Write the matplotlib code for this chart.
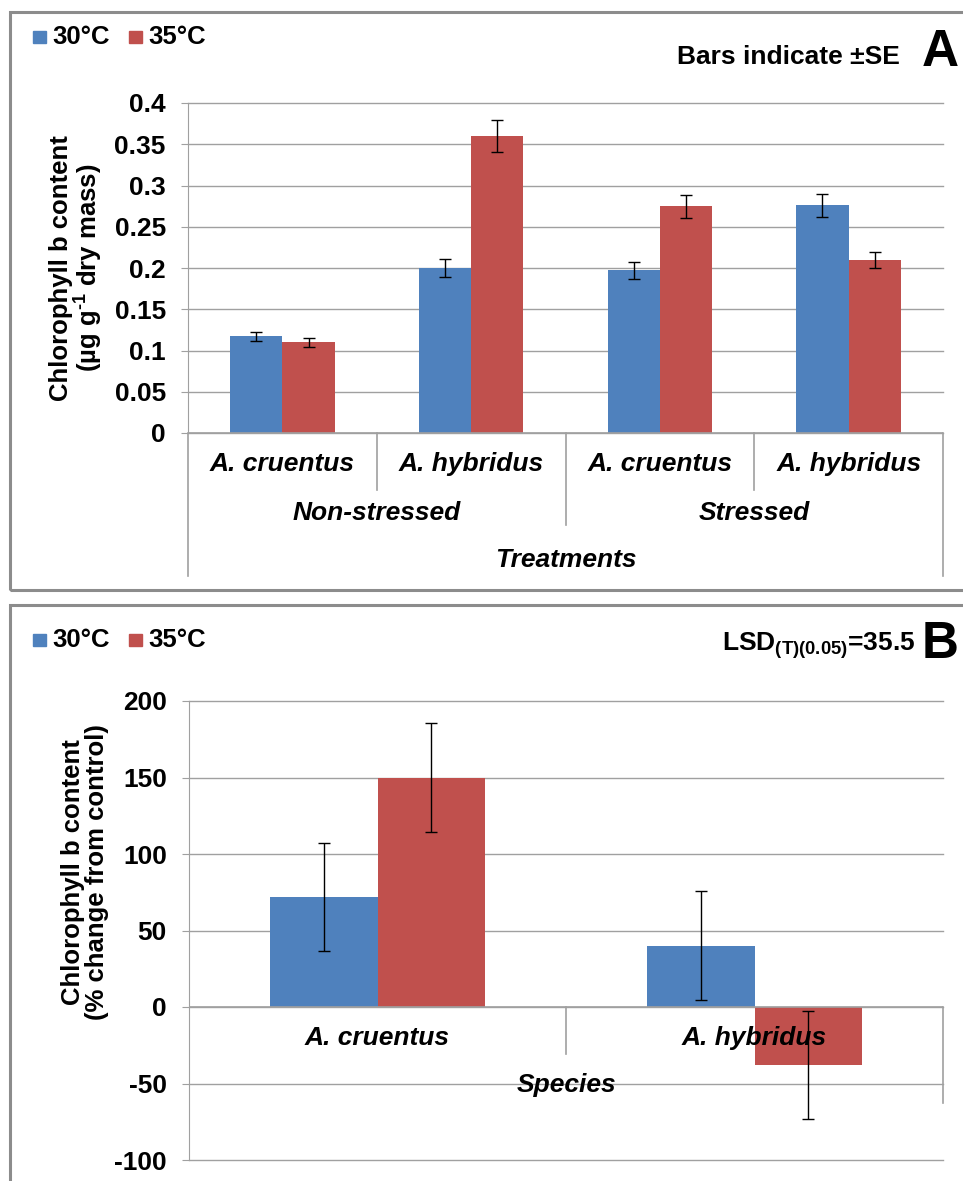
import matplotlib.pyplot as plt
from matplotlib.patches import Rectangle
import numpy as np

plt.rcParams['font.family'] = ['Liberation Sans', 'DejaVu Sans']
plt.rcParams['font.weight'] = 'bold'
plt.rcParams['axes.unicode_minus'] = False
plt.rcParams['mathtext.fontset'] = 'custom'
plt.rcParams['mathtext.rm'] = 'Liberation Sans:bold'
plt.rcParams['mathtext.it'] = 'Liberation Sans:italic:bold'
plt.rcParams['mathtext.bf'] = 'Liberation Sans:bold'
plt.rcParams['mathtext.default'] = 'rm'

# === Données ===
especes = ['A. cruentus', 'A. hybridus', 'A. cruentus', 'A. hybridus']
traitements = ['Non-stressed', 'Stressed']
chl_30 = [0.117, 0.200, 0.197, 0.276]
chl_35 = [0.110, 0.360, 0.275, 0.210]
se_30 = [0.006, 0.011, 0.010, 0.014]
se_35 = [0.0055, 0.019, 0.014, 0.010]
ticks_a = [0, 0.05, 0.1, 0.15, 0.2, 0.25, 0.3, 0.35, 0.4]

especes_b = ['A. cruentus', 'A. hybridus']
chg_30 = [72, 40]
chg_35 = [150, -38]
err_30 = [35.5, 35.5]
err_35 = [35.5, 35.5]
ticks_b = [-100, -50, 0, 50, 100, 150, 200]

bleu = '#4F81BD'
rouge = '#C0504D'
gris = '#A0A0A0'
taille = 19

W, H = 963, 1181
fig = plt.figure(figsize=(W / 100, H / 100), dpi=100)


def fx(x):
    return x / W


def fy(y):
    return 1 - y / H


def axe_px(x0, x1, y0, y1):
    return fig.add_axes([fx(x0), fy(y1), (x1 - x0) / W, (y1 - y0) / H])


# cadres gris des deux panneaux
for top, bot in [(12, 590), (605, 1230)]:
    fig.patches.append(Rectangle((fx(10), fy(bot)), fx(1100) - fx(10), fy(top) - fy(bot),
                                 transform=fig.transFigure, fill=False,
                                 edgecolor='#8C8C8C', lw=2.2))


def style_axe(ax):
    for s in ['top', 'right', 'bottom']:
        ax.spines[s].set_visible(False)
    ax.spines['left'].set_color(gris)
    ax.tick_params(axis='y', length=5, color=gris, labelsize=taille, pad=11)
    ax.tick_params(axis='x', length=0, labelbottom=False)
    ax.yaxis.grid(True, color=gris, lw=1.0)
    for gl in ax.get_ygridlines():
        gl.set_clip_on(False)
    ax.set_axisbelow(True)


def legende(y):
    fig.patches.append(Rectangle((fx(33), fy(y + 6)), 13 / W, 12 / H, transform=fig.transFigure,
                                 color=bleu))
    fig.text(fx(52), fy(y), '30°C', fontsize=18.5, va='center', ha='left')
    fig.patches.append(Rectangle((fx(129), fy(y + 6)), 13 / W, 12 / H, transform=fig.transFigure,
                                 color=rouge))
    fig.text(fx(148), fy(y), '35°C', fontsize=18.5, va='center', ha='left')


# === Panneau A ===
ax = axe_px(188, 943, 103, 433)
style_axe(ax)
x = np.arange(len(especes))
lb = 0.277
ax.bar(x - lb / 2, chl_30, lb, color=bleu, yerr=se_30,
       error_kw=dict(ecolor='black', lw=1, capsize=4.5, capthick=1))
ax.bar(x + lb / 2, chl_35, lb, color=rouge, yerr=se_35,
       error_kw=dict(ecolor='black', lw=1, capsize=4.5, capthick=1))
ax.set_xlim(-0.5, 3.5)
ax.set_ylim(0, 0.4)
ax.set_yticks(ticks_a)
ax.set_yticklabels([f'{t:g}' for t in ticks_a])
ax.axhline(0, color=gris, lw=1.2)
tr = ax.get_xaxis_transform()
for xd, yb in [(0.5, -0.173), (1.5, -0.279), (2.5, -0.173), (-0.5, -0.433), (3.5, -0.433)]:
    ax.plot([xd, xd], [0, yb], color=gris, lw=1.2, transform=tr, clip_on=False)
for i, e in enumerate(especes):
    ax.text(i, -0.095, e, transform=tr, ha='center', va='center', fontsize=taille, style='italic')
for i, t in enumerate(traitements):
    ax.text(0.5 + 2 * i, -0.242, t, transform=tr, ha='center', va='center', fontsize=taille,
            style='italic')
ax.text(1.5, -0.385, 'Treatments', transform=tr, ha='center', va='center', fontsize=taille,
        style='italic')
fig.text(fx(77), fy(268), 'Chlorophyll b content\n(µg g$^{\\text{-}1}$ dry mass)', rotation=90,
         ha='center', va='center', fontsize=18.5, linespacing=1.0)
legende(37)
fig.text(fx(900), fy(57), 'Bars indicate ±SE', ha='right', va='center', fontsize=19)
fig.text(fx(940), fy(52), 'A', ha='center', va='center', fontsize=37)

# === Panneau B ===
axb = axe_px(189, 943, 701, 1160)
style_axe(axb)
xb = np.arange(len(especes_b))
lb2 = 0.284
axb.bar(xb - lb2 / 2, chg_30, lb2, color=bleu, yerr=err_30,
        error_kw=dict(ecolor='black', lw=1, capsize=4.5, capthick=1))
axb.bar(xb + lb2 / 2, chg_35, lb2, color=rouge, yerr=err_35,
        error_kw=dict(ecolor='black', lw=1, capsize=4.5, capthick=1))
axb.set_xlim(-0.5, 1.5)
axb.set_ylim(-100, 200)
axb.set_yticks(ticks_b)
axb.axhline(0, color=gris, lw=1.2)
for xd, y0, y1 in [(0.5, 0, -31), (1.5, 0, -63)]:
    axb.plot([xd, xd], [y0, y1], color=gris, lw=1.2, clip_on=False)
for i, e in enumerate(especes_b):
    axb.text(i, -20, e, ha='center', va='center', fontsize=taille, style='italic')
axb.text(0.5, -51, 'Species', ha='center', va='center', fontsize=taille, style='italic')
fig.text(fx(85), fy(872), 'Chlorophyll b content\n(% change from control)', rotation=90,
         ha='center', va='center', fontsize=18.5, linespacing=1.0)
legende(640)
fig.text(fx(915), fy(646), 'LSD$_{(T)(0.05)}$=35.5', ha='right', va='center', fontsize=19)
fig.text(fx(940), fy(644), 'B', ha='center', va='center', fontsize=37)

fig.savefig('out.png', dpi=100)
